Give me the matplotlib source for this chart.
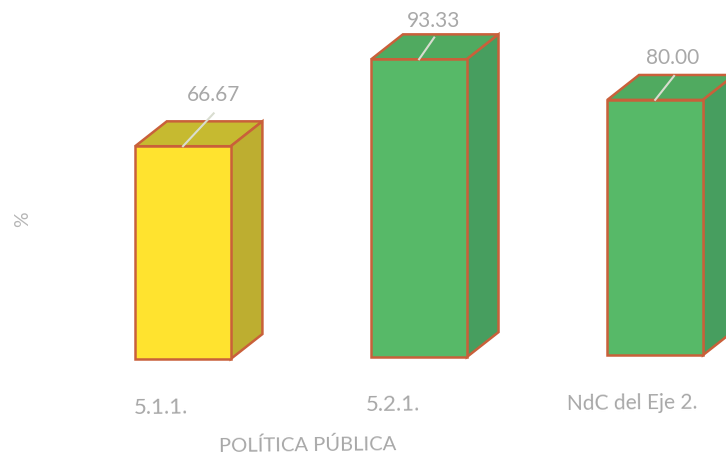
import matplotlib
matplotlib.use('Agg')
import matplotlib.pyplot as plt
from matplotlib.patches import Polygon

plt.rcParams['font.family'] = ['Lato', 'DejaVu Sans']

categories = ['5.1.1.', '5.2.1.', 'NdC del Eje 2.']
values = [66.67, 93.33, 80.00]
value_labels = ['66.67', '93.33', '80.00']

# front, top, side colour for each bar
front_colors = ['#FFE32F', '#57B968', '#57B968']
top_colors = ['#C6BA30', '#50AA60', '#50AA60']
side_colors = ['#BDAE30', '#479E5F', '#479E5F']
edge_color = '#C9603A'
text_color = '#A8A8A8'

# the scan is a bit tilted, the bars creep upwards to the right
base_shift = [-0.3, 0.3, 0.9]
bar_width = 0.405
depth_x = 0.134
depth_y = 7.8
# leader end and label position, relative to the top of the bar
leader_x = [0.13, 0.064, 0.08]
leader_y = [10.3, 6.8, 7.5]
label_x = [0.13, 0.06, 0.076]
label_y = [16, 12.0, 13.2]
# category label positions
cat_x = [-0.095, -0.11, -0.097]
cat_y = [-15.7, -14.8, -14.1]
cat_size = [16, 16, 15]

fig = plt.figure(figsize=(7.26, 4.58), dpi=100)
ax = fig.add_axes([0, 0, 1, 1])
ax.set_xlim(-0.775, 2.30)
ax.set_ylim(-31.35, 112.2)
ax.axis('off')

for i, val in enumerate(values):
    b = base_shift[i]
    x0 = i - bar_width / 2
    x1 = i + bar_width / 2
    y1 = b + val
    ax.bar(i, val, width=bar_width, bottom=b, color=front_colors[i],
           edgecolor=edge_color, linewidth=1.8, zorder=3)
    ax.add_patch(Polygon([(x0, y1), (x1, y1), (x1 + depth_x, y1 + depth_y), (x0 + depth_x, y1 + depth_y)],
                         facecolor=top_colors[i], edgecolor=edge_color, linewidth=1.8, zorder=2))
    ax.add_patch(Polygon([(x1, b), (x1 + depth_x, b + depth_y), (x1 + depth_x, y1 + depth_y), (x1, y1)],
                         facecolor=side_colors[i], edgecolor=edge_color, linewidth=1.8, zorder=2))
    # leader line and value label
    ax.plot([i, i + leader_x[i]], [y1, y1 + leader_y[i]], color='#D9DDD0', linewidth=1.5, zorder=4)
    ax.text(i + label_x[i], y1 + label_y[i], value_labels[i], color=text_color, fontsize=15,
            ha='center', va='center')

for i, cat in enumerate(categories):
    ax.text(i + cat_x[i], cat_y[i], cat, color=text_color, fontsize=cat_size[i],
            ha='center', va='center', rotation=0.6)

ax.text(0.53, -27.2, 'POLÍTICA PÚBLICA', color=text_color, fontsize=14.5,
        ha='center', va='center', rotation=0.6)
ax.text(-0.68, 43.6, '%', color='#B5B5B5', fontsize=14,
        ha='center', va='center', rotation=90)

fig.savefig('out.png', dpi=100)
plt.close()
